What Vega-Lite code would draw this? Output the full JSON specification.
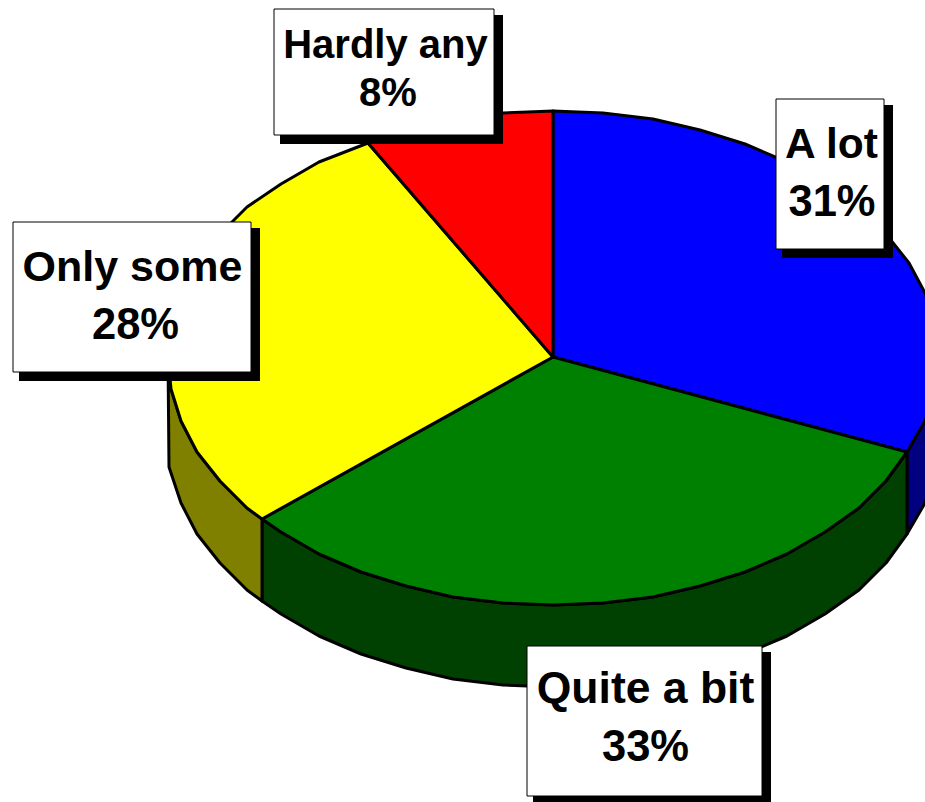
{"$schema":"https://vega.github.io/schema/vega-lite/v6.json","width":925,"height":802,"padding":0,"autosize":{"type":"none"},"background":"white","view":{"stroke":null},
"layer":[
{"data":{"values":[
{"type":"Feature","properties":{"part":"A lot wall"},"geometry":{"type":"Polygon","coordinates":[[[938,357],[935,389],[925,421],[907,452],[907,534],[925,503],[935,471],[938,439],[938,357]]]}},
{"type":"Feature","properties":{"part":"Quite a bit wall"},"geometry":{"type":"Polygon","coordinates":[[[907,452],[886,481],[859,508],[825,532],[787,554],[745,572],[700,586],[653,597],[603,603],[553,605],[503,603],[453,597],[406,586],[361,572],[319,554],[281,532],[262,519],[262,601],[281,614],[319,636],[361,654],[406,668],[453,679],[503,685],[553,687],[603,685],[653,679],[700,668],[745,654],[787,636],[825,614],[859,590],[886,563],[907,534],[907,452]]]}},
{"type":"Feature","properties":{"part":"Only some wall"},"geometry":{"type":"Polygon","coordinates":[[[262,519],[247,508],[220,481],[197,452],[181,421],[171,389],[168,357],[169,467],[181,503],[197,534],[220,563],[247,590],[262,601],[262,519]]]}},
{"type":"Feature","properties":{"part":"A lot"},"geometry":{"type":"Polygon","coordinates":[[[553,357],[553,111],[603,113],[653,119],[700,130],[745,144],[787,162],[825,184],[859,207],[886,234],[909,263],[925,293],[935,325],[938,357],[935,389],[925,421],[907,452],[553,357]]]}},
{"type":"Feature","properties":{"part":"Quite a bit"},"geometry":{"type":"Polygon","coordinates":[[[553,357],[907,452],[886,481],[859,508],[825,532],[787,554],[745,572],[700,586],[653,597],[603,603],[553,605],[503,603],[453,597],[406,586],[361,572],[319,554],[281,532],[262,519],[553,357]]]}},
{"type":"Feature","properties":{"part":"Only some"},"geometry":{"type":"Polygon","coordinates":[[[553,357],[262,519],[247,508],[220,481],[197,452],[181,421],[171,389],[168,357],[171,325],[181,293],[197,262],[220,234],[247,207],[281,184],[319,162],[368,143],[553,357]]]}},
{"type":"Feature","properties":{"part":"Hardly any"},"geometry":{"type":"Polygon","coordinates":[[[553,357],[368,143],[406,130],[453,119],[503,113],[553,111],[553,357]]]}}
]},
"mark":{"type":"geoshape","stroke":"black","strokeWidth":3,"strokeJoin":"round"},
"projection":{"type":"identity","scale":1,"translate":[0,0]},
"encoding":{"fill":{"field":"properties.part","type":"nominal","legend":null,"scale":{"domain":["A lot","Quite a bit","Only some","Hardly any","A lot wall","Quite a bit wall","Only some wall"],"range":["#0000ff","#008000","#ffff00","#ff0000","#000080","#004000","#808000"]}}}},
{"data":{"name":"boxes","values":[
{"label":"Hardly any","x0":274,"x1":494,"y0":9,"y1":135,"sx0":280,"sx1":503,"sy0":15,"sy1":144},
{"label":"A lot","x0":776,"x1":884,"y0":99,"y1":249,"sx0":782,"sx1":893,"sy0":105,"sy1":258},
{"label":"Only some","x0":13,"x1":251,"y0":222,"y1":372,"sx0":19,"sx1":260,"sy0":228,"sy1":381},
{"label":"Quite a bit","x0":527,"x1":762,"y0":646,"y1":796,"sx0":533,"sx1":771,"sy0":652,"sy1":805}
]},
"layer":[
{"mark":{"type":"rect","fill":"black"},"encoding":{"x":{"field":"sx0","type":"quantitative","scale":{"domain":[0,925],"range":[0,925]},"axis":null},"x2":{"field":"sx1"},"y":{"field":"sy0","type":"quantitative","scale":{"domain":[0,802],"range":[0,802]},"axis":null},"y2":{"field":"sy1"}}},
{"mark":{"type":"rect","fill":"white","stroke":"black","strokeWidth":1},"encoding":{"x":{"field":"x0","type":"quantitative","scale":{"domain":[0,925],"range":[0,925]},"axis":null},"x2":{"field":"x1"},"y":{"field":"y0","type":"quantitative","scale":{"domain":[0,802],"range":[0,802]},"axis":null},"y2":{"field":"y1"}}}
]},
{"data":{"values":[
{"t":"Hardly any","x":385.5,"y":46,"s":40},
{"t":"8%","x":388,"y":94,"s":40},
{"t":"A lot","x":831.5,"y":145,"s":42.5},
{"t":"31%","x":832,"y":203,"s":43.5},
{"t":"Only some","x":132.5,"y":268,"s":43},
{"t":"28%","x":135.5,"y":326,"s":43.5},
{"t":"Quite a bit","x":645.5,"y":690,"s":44.5},
{"t":"33%","x":645.5,"y":748,"s":43.5}
]},
"mark":{"type":"text","font":"Liberation Sans","fontWeight":"bold","align":"center","baseline":"middle","color":"black"},
"encoding":{"x":{"field":"x","type":"quantitative","scale":{"domain":[0,925],"range":[0,925]},"axis":null},"y":{"field":"y","type":"quantitative","scale":{"domain":[0,802],"range":[0,802]},"axis":null},"text":{"field":"t"},"size":{"field":"s","type":"quantitative","scale":null,"legend":null}}}
],
"resolve":{"scale":{"x":"shared","y":"shared"}}}
